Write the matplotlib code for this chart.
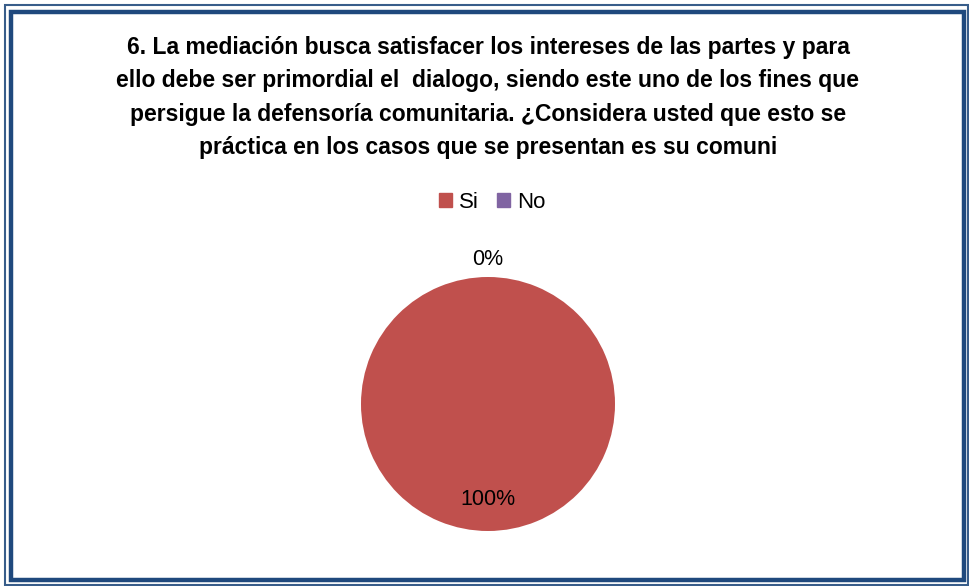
import numpy as np
import matplotlib.pyplot as plt
from matplotlib.patches import Rectangle

categorias = ['Si', 'No']
valores = [100, 0]
colores = ['#C0504D', '#8064A2']
titulo = ('6. La mediación busca satisfacer los intereses de las partes y para\n'
          'ello debe ser primordial el  dialogo, siendo este uno de los fines que\n'
          'persigue la defensoría comunitaria. ¿Considera usted que esto se\n'
          'práctica en los casos que se presentan es su comuni')

W, H = 969, 586
fig = plt.figure(figsize=(W / 100, H / 100), dpi=100)
plt.rcParams['font.family'] = ['Liberation Sans', 'DejaVu Sans']

# marco doble
fig.add_artist(Rectangle((4.5 / W, 1.5 / H), (W - 6) / W, (H - 6) / H, transform=fig.transFigure,
                         fill=False, ec='#385D8A', lw=1.5))
fig.add_artist(Rectangle((11 / W, 6.5 / H), (W - 16.5) / W, (H - 18.5) / H, transform=fig.transFigure,
                         fill=False, ec='#1F497D', lw=3.2))

fig.text(488 / W, 1 - 97.5 / H, titulo, ha='center', va='center', fontsize=16.5,
         fontweight='bold', linespacing=1.57)

cx, cy, r = 488, 404, 127
ax = fig.add_axes([(cx - r) / W, (H - cy - r) / H, 2 * r / W, 2 * r / H])
wedges, _ = ax.pie(valores, colors=colores, startangle=90, counterclock=False,
                   radius=1, wedgeprops=dict(linewidth=0))
ax.set_xlim(-1, 1)
ax.set_ylim(-1, 1)
ax.axis('off')

total = sum(valores)
dist = [0.75, 1.14]
for w, v, d in zip(wedges, valores, dist):
    ang = np.deg2rad((w.theta1 + w.theta2) / 2)
    ax.text(d * np.cos(ang), d * np.sin(ang), f'{v / total:.0%}', ha='center', va='center',
            fontsize=15.5, clip_on=False)

handles = [Rectangle((0, 0), 1, 1, color=c) for c in colores]
fig.legend(handles, categorias, loc='center', bbox_to_anchor=(492 / W, 1 - 202 / H), ncol=2,
           frameon=False, fontsize=16, handlelength=0.6, handleheight=0.6,
           handletextpad=0.3, columnspacing=0.8)

fig.savefig('out.png', dpi=100)
